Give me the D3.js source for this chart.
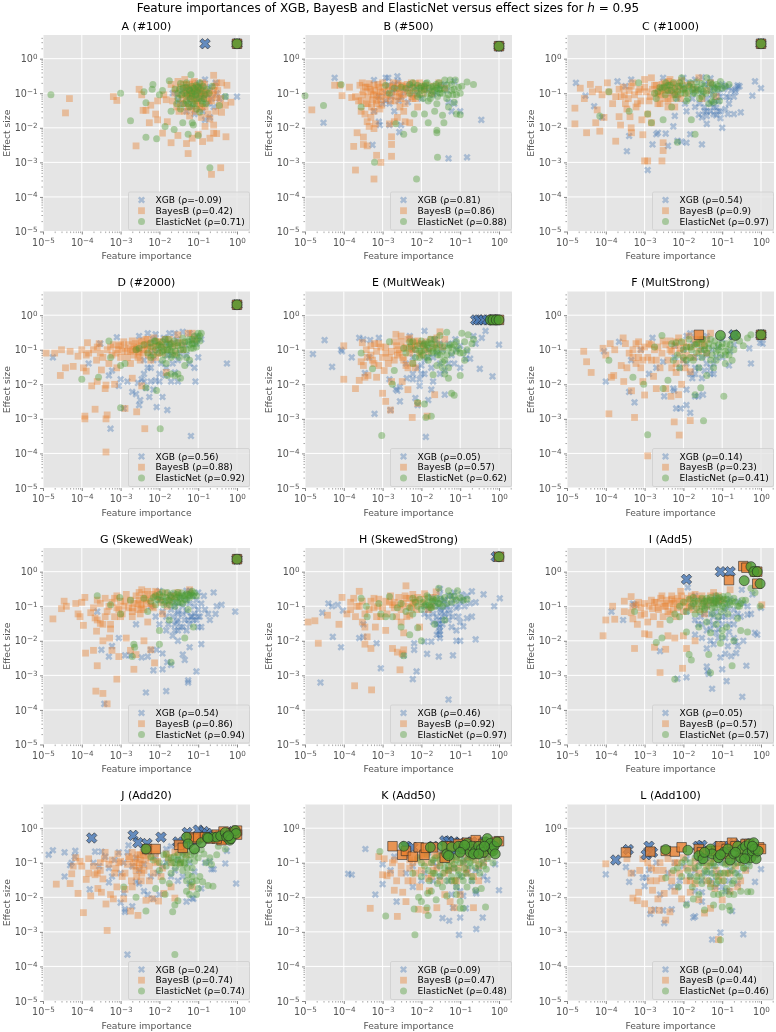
<!DOCTYPE html>
<html><head><meta charset="utf-8">
<script src="https://cdnjs.cloudflare.com/ajax/libs/d3/7.8.5/d3.min.js"></script>
<style>html,body{margin:0;padding:0;background:#fff}svg{display:block;filter:blur(.3px)}text{font-family:"DejaVu Sans",sans-serif}</style>
</head><body><div id="chart"></div>
<script>
const panelTitles=["A (#100)","B (#500)","C (#1000)","D (#2000)","E (MultWeak)","F (MultStrong)","G (SkewedWeak)","H (SkewedStrong)","I (Add5)","J (Add20)","K (Add50)","L (Add100)"];
const rhoXgb=["-0.09","0.81","0.54","0.56","0.05","0.14","0.54","0.46","0.05","0.24","0.09","0.04"];
const rhoBayes=["0.42","0.86","0.9","0.88","0.57","0.23","0.86","0.92","0.57","0.74","0.47","0.44"];
const rhoEnet=["0.71","0.88","0.97","0.92","0.62","0.41","0.94","0.97","0.57","0.74","0.48","0.46"];
const xTickValues=[1e-5,1e-4,1e-3,1e-2,1e-1,1];
const yTickValues=[1e-5,1e-4,1e-3,1e-2,1e-1,1];

const xgbA=[[1,.08],[.5,.08],[.15,.017],[.1,.2],[.2,.15],[.3,.1],[.05,.15],[.03,.06],[.07,.04],[.12,.07],[.18,.05],[.25,.04],[.09,.11],[.06,.09],[.04,.12],[.15,.25],[.08,.025],[.13,.03],[.35,.07],[.2,.02],[.1,.13],[.14,.09],[.022,.1],[.28,.2]];
const bayesA=[[3.8e-5,.027],[4.8e-5,.07],[6.5e-4,.08],[8e-4,.062],[.0025,.003],[.003,.13],[.0035,.09],[.0038,.032],[.0045,.032],[.006,.045],[.0055,.014],[.008,.025],[.009,.017],[.009,.06],[.012,.007],[.013,.09],[.015,.065],[.016,.015],[.02,.0037],[.03,.006],[.05,.0035],[.055,.0018],[.06,.022],[.07,.005],[.1,.0065],[.13,.004],[.2,.005],[.25,.007],[.3,.0068],[.52,.0055],[.38,.0007],[.22,.00045],[.25,.33],[.55,.17],[.7,.055],[.5,.045],[.4,.2],[.3,.2],[.02,.18],[.025,.1],[.03,.22],[.035,.15],[.04,.07],[.045,.25],[.05,.12],[.055,.04],[.06,.18],[.065,.09],[.07,.14],[.075,.06],[.08,.22],[.085,.03],[.09,.1],[.1,.16],[.11,.05],[.12,.08],[.13,.2],[.14,.12],[.15,.04],[.16,.07],[.18,.025],[.2,.1],[.22,.06],[.25,.12],[.28,.03],[.3,.075],[.35,.045],[.12,.02],[.2,.018],[.25,.012],[.15,.011],[.4,.028],[.045,.03],[.035,.05],[.028,.04],[.05,.08],[.07,.1],[.09,.045],[.11,.035]];
const enetA=[[1.6e-5,.09],[.001,.1],[.0018,.016],[.004,.11],[.0045,.0053],[.0045,.053],[.0065,.13],[.0068,.18],[.0085,.0048],[.01,.09],[.012,.12],[.014,.011],[.018,.23],[.02,.03],[.024,.009],[.025,.13],[.03,.07],[.035,.19],[.04,.014],[.045,.1],[.05,.06],[.055,.0065],[.065,.34],[.07,.08],[.075,.012],[.08,.05],[.09,.17],[.1,.006],[.11,.028],[.12,.1],[.14,.07],[.17,.13],[.2,.0007],[.23,.16],[.35,.044],[.5,.08],[.06,.12],[.04,.14],[.05,.2],[.08,.11],[.09,.07],[.1,.15],[.13,.05],[.15,.09],[.03,.1],[.07,.16],[.06,.04],[.11,.2],[.07,.014]];

const xgbB=[[3e-5,.014],[5.8e-5,.28],[5.5e-4,.0032],[6e-4,.24],[8e-4,.015],[8.5e-4,.012],[.0012,.28],[.0014,.28],[.0015,.012],[.002,.03],[.0024,.31],[.0027,.0075],[.003,.012],[.005,.17],[.05,.0013],[.15,.0014],[.35,.017],[.1,.03],[.07,.22],[.045,.12],[.05,.055],[.07,.05],[.06,.03],[.001,.05],[.0015,.05],[.0018,.12],[.003,.08],[.002,.18],[.0045,.055],[.008,.1],[.012,.15],[.02,.09],[.03,.16],[6e-4,.03],[8e-4,.08],[.0012,.1]];
const bayesB=[[1.5e-5,.033],[5.8e-5,.17],[8e-5,.17],[9e-5,.085],[1.4e-4,.15],[1.6e-4,.075],[2e-4,.08],[2.4e-4,.06],[2.6e-4,.17],[2.8e-4,.03],[3e-4,.2],[2.8e-4,.06],[3.2e-4,.11],[3.5e-4,.025],[3.8e-4,.05],[4e-4,.015],[4e-4,.15],[4.2e-4,.08],[4.5e-4,.19],[4.5e-4,.011],[5e-4,.02],[5e-4,.11],[5.5e-4,.065],[6e-4,.17],[6e-4,.03],[6.5e-4,.013],[7e-4,.09],[7e-4,.05],[8e-4,.15],[8.5e-4,.035],[9e-4,.065],[.001,.2],[.001,.11],[.0013,.09],[.0015,.013],[.0016,.06],[.0018,.15],[.002,.015],[.0022,.11],[.0025,.19],[.0028,.04],[.003,.07],[.0032,.13],[.0035,.03],[.004,.15],[.0045,.1],[.005,.014],[.0055,.2],[.006,.07],[.007,.19],[.008,.04],[.01,.15],[.013,.17],[.018,.1],[.028,.2],[.04,.14],[1.8e-4,.0029],[2.2e-4,.0072],[3.2e-4,.0054],[3.2e-4,.0033],[4e-4,.003],[6e-4,.0095],[7e-4,.0016],[9e-4,.001],[.0017,.0055],[.0017,.0033],[.0017,.0015],[2e-4,.0006],[6e-4,.00033],[.0038,.015],[.0024,.02]];
const enetB=[[1e-5,.085],[3e-5,.044],[8.5e-5,.18],[2.8e-4,.04],[6.2e-4,.001],[.0012,.17],[.0015,.1],[.002,.14],[.0022,.013],[.003,.15],[.0035,.0065],[.005,.18],[.006,.15],[.0065,.025],[.0065,.009],[.0075,.00033],[.008,.08],[.01,.12],[.012,.025],[.014,.2],[.015,.014],[.017,.07],[.02,.11],[.022,.03],[.025,.0072],[.025,.0085],[.026,.0014],[.028,.2],[.03,.13],[.035,.023],[.038,.014],[.04,.24],[.045,.07],[.05,.04],[.055,.24],[.06,.12],[.065,.09],[.07,.055],[.075,.24],[.08,.025],[.09,.15],[.1,.024],[.11,.16],[.15,.21],[.22,.18],[.025,.14],[.012,.16],[.018,.15],[.009,.14],[.03,.1]];

const xgbC=[[1.7e-5,.2],[3e-5,.085],[5e-5,.042],[8e-5,.02],[2e-4,.22],[3.2e-4,.16],[3.5e-4,.0021],[4e-4,.0058],[4.5e-4,.25],[.0012,.0006],[.0016,.0033],[.002,.0065],[.0022,.0072],[.0035,.0068],[.004,.003],[.0055,.011],[.006,.022],[.007,.0042],[.009,.004],[.012,.0037],[.015,.0065],[.03,.0033],[.04,.013],[.05,.03],[.06,.04],[.07,.023],[.08,.06],[.09,.019],[.1,.01],[.11,.13],[.12,.035],[.14,.025],[.15,.075],[.2,.025],[.22,.13],[.25,.15],[.25,.17],[.3,.028],[.22,.11],[.7,.22],[.6,.085],[1,.14],[.035,.03],[.025,.024],[.02,.04],[.06,.025],[.012,.03],[.018,.11],[.05,.12],[.08,.1],[.12,.16],[.05,.27],[.01,.28],[.003,.28],[.02,.25],[.03,.29],[.04,.03],[.06,.15],[.15,.15],[.035,.18],[.08,.03],[.03,.02]];
const bayesC=[[1.6e-5,.037],[1.6e-5,.013],[2.2e-5,.14],[2.8e-5,.07],[3.2e-5,.0072],[4e-5,.18],[4.5e-5,.11],[5.5e-5,.014],[6e-5,.033],[7e-5,.008],[6.5e-5,.13],[8e-5,.09],[9e-5,.02],[1.1e-4,.2],[1.2e-4,.11],[1.5e-4,.05],[1.8e-4,.0041],[2.2e-4,.021],[2.4e-4,.012],[2.5e-4,.08],[2.8e-4,.15],[3.2e-4,.05],[3.5e-4,.035],[4e-4,.12],[4.2e-4,.021],[4.5e-4,.01],[4.6e-4,.0072],[5e-4,.2],[6e-4,.04],[7e-4,.11],[8e-4,.06],[8.5e-4,.017],[9e-4,.0063],[.001,.15],[.001,.0011],[.0012,.0011],[.0012,.025],[.0014,.08],[.0015,.014],[.002,.17],[.0022,.08],[.0025,.11],[.0028,.0011],[.003,.0037],[.003,.0022],[.0032,.2],[.0035,.13],[.004,.06],[.0045,.25],[.005,.15],[.0055,.09],[.007,.13],[.009,.23],[.012,.1],[.016,.18],[.025,.28],[.001,.25],[.0015,.28],[.03,.07],[.04,.12],[.05,.2],[.07,.08],[.0025,.05]];
const enetC=[[7e-5,.022],[1.2e-4,.11],[4e-4,.03],[7e-4,.2],[.0012,.025],[.0015,.014],[.0018,.1],[.002,.07],[.0025,.15],[.003,.017],[.0035,.2],[.004,.12],[.005,.04],[.006,.09],[.007,.0038],[.008,.2],[.009,.28],[.01,.13],[.012,.06],[.014,.16],[.016,.017],[.018,.1],[.02,.0065],[.022,.21],[.025,.12],[.03,.08],[.035,.16],[.04,.28],[.045,.05],[.05,.13],[.06,.055],[.07,.18],[.08,.16],[.09,.22],[.1,.14],[.0032,.15],[.0045,.17],[.007,.11],[.011,.1],[.013,.07],[.018,.15],[.028,.13],[.06,.09],[.055,.06]];

const xgbD=[[1.8e-5,.06],[1.5e-4,.04],[3e-4,.15],[5.5e-4,.00052],[5e-4,.018],[6e-4,.025],[8e-4,.23],[9e-4,.009],[.001,.014],[.0012,.002],[.0015,.012],[.002,.006],[.0025,.0052],[.0028,.011],[.003,.0025],[.0032,.0035],[.0035,.014],[.0045,.0078],[.0055,.0043],[.007,.007],[.0085,.0022],[.012,.0043],[.016,.0018],[.02,.012],[.03,.012],[.065,.00032],[.08,.03],[.085,.012],[.1,.06],[.55,.04],[.003,.25],[.005,.3],[.008,.28],[.018,.3],[.025,.3],[.04,.33],[.06,.3],[.09,.15],[.12,.2],[.005,.03],[.007,.05],[.01,.02],[.015,.03],[.02,.07],[.03,.05],[.05,.07],[.008,.013],[.004,.02],[.006,.08],[.015,.15]];
const bayesD=[[1.2e-5,.08],[2e-5,.08],[2.8e-5,.018],[3e-5,.1],[3.8e-5,.03],[5e-5,.09],[6e-5,.033],[8e-5,.065],[1e-4,.1],[1.1e-4,.03],[1.2e-4,.001],[1.2e-4,.0012],[1.3e-4,.07],[1.3e-4,.024],[1.4e-4,.16],[1.8e-4,.009],[2e-4,.1],[2.2e-4,.0019],[2.4e-4,.05],[2.5e-4,.012],[2.8e-4,.15],[3e-4,.08],[3.2e-4,.026],[4e-4,.0075],[4.2e-4,.001],[4.2e-4,.0095],[4.2e-4,.00011],[4.5e-4,.0013],[5e-4,.04],[5.5e-4,.12],[6e-4,.07],[7e-4,.01],[8e-4,.03],[9e-4,.13],[.001,.06],[.0012,.17],[.0013,.002],[.0015,.09],[.0018,.04],[.002,.015],[.0022,.12],[.0026,.0016],[.0028,.06],[.003,.17],[.0035,.009],[.0042,.00052],[.004,.1],[.005,.2],[.006,.05],[.007,.12],[.009,.17],[.012,.08],[.015,.022],[.018,.2],[.025,.13],[.03,.27],[.04,.16],[.055,.3],[.07,.3],[.08,.2],[.003,.08],[.0035,.13],[.0025,.1],[.002,.1],[.005,.13],[.008,.06],[.011,.14]];
const enetD=[[1e-4,.014],[2.7e-4,.016],[5e-4,.18],[5.5e-4,.06],[.001,.035],[.001,.0021],[.0013,.04],[.0025,.1],[.0045,.008],[.006,.12],[.0075,.18],[.0085,.0066],[.0105,.00052],[.012,.09],[.015,.04],[.016,.018],[.02,.15],[.022,.07],[.025,.018],[.03,.13],[.035,.015],[.04,.22],[.045,.035],[.05,.1],[.055,.17],[.06,.05],[.07,.2],[.08,.25],[.09,.12],[.1,.3],[.12,.3],[.11,.18],[.006,.06],[.008,.1],[.01,.14],[.014,.2],[.018,.1],[.028,.07],[.035,.1],[.06,.14],[.08,.15],[.012,.05],[.02,.09]];

const xgbE=[[1.6e-5,.075],[3.2e-5,.19],[5e-5,.032],[8.5e-5,.1],[9e-5,.09],[1.6e-4,.06],[2.5e-4,.22],[3.2e-4,.2],[3.5e-4,.021],[4.5e-4,.06],[4.8e-4,.19],[6.2e-4,.0014],[8e-4,.22],[.0015,.014],[.0016,.0018],[.0022,.0072],[.0024,.0065],[.0028,.0085],[.0028,.0032],[.0042,.015],[.005,.25],[.006,.014],[.007,.004],[.008,.0025],[.009,.009],[.01,.035],[.012,.35],[.013,.0003],[.015,.0035],[.018,.007],[.02,.012],[.03,.02],[.04,.005],[.075,.2],[.1,.03],[.15,.09],[.18,.055],[.22,.25],[.25,.15],[.32,.028],[.36,.22],[.45,.35],[.68,.017],[1,.14],[.14,.055],[.015,.1],[.02,.06],[.03,.15],[.05,.04],[.08,.1],[.012,.05],[.006,.06],[.01,.02]];
const bayesE=[[1e-4,.13],[1e-4,.014],[2e-4,.0075],[2.5e-4,.013],[2.8e-4,.045],[3e-4,.16],[3.2e-4,.035],[3.5e-4,.016],[3.8e-4,.1],[4.2e-4,.018],[5e-4,.07],[5.5e-4,.05],[6.2e-4,.15],[7e-4,.016],[8e-4,.035],[9e-4,.12],[.001,.0055],[.0011,.025],[.0012,.08],[.0012,.0032],[.0015,.06],[.0016,.0018],[.0017,.012],[.002,.17],[.0022,.28],[.0025,.1],[.003,.25],[.0032,.012],[.0035,.05],[.004,.035],[.0045,.007],[.005,.22],[.0058,.0011],[.0065,.17],[.008,.0028],[.009,.08],[.012,.11],[.014,.0012],[.018,.2],[.022,.005],[.025,.14],[.03,.33],[.04,.2],[.007,.03],[.009,.15],[.0055,.11],[.0035,.11],[.0024,.07]];
const enetE=[[2.8e-4,.08],[5.5e-4,.028],[.00095,.00033],[.0015,.17],[.0018,.01],[.002,.025],[.0035,.11],[.005,.17],[.006,.04],[.007,.1],[.008,.003],[.009,.06],[.011,.13],[.012,.0027],[.013,.0011],[.015,.05],[.017,.2],[.018,.0012],[.02,.019],[.025,.09],[.03,.26],[.035,.03],[.04,.02],[.045,.32],[.05,.015],[.06,.0055],[.055,.14],[.07,.0048],[.08,.17],[.09,.11],[.1,.018],[.11,.3],[.12,.08],[.13,.05],[.16,.27],[.2,.15],[.15,.1],[.22,.2],[.01,.09],[.014,.14],[.018,.08],[.022,.14],[.03,.07],[.04,.05],[.06,.12]];

const xgbF=[[9e-5,.09],[1e-4,.012],[2.2e-4,.17],[4e-4,.006],[4.5e-4,.05],[5.5e-4,.003],[8e-4,.1],[.0013,.02],[.0016,.22],[.002,.03],[.003,.045],[.0032,.0045],[.0055,.0075],[.0058,.0065],[.0065,.002],[.0085,.002],[.012,.0025],[.012,.007],[.015,.0015],[.02,.0045],[.024,.0045],[.032,.005],[.02,.03],[.03,.015],[.04,.04],[.05,.03],[.06,.02],[.015,.3],[.02,.02],[.03,.06],[.055,.1],[.08,.12],[.15,.035],[.16,.09],[.5,.11],[.55,.04],[.95,.16],[1.1,.15],[.1,.2],[.2,.14],[.006,.13],[.01,.05],[.017,.015]];
const bayesF=[[2.7e-5,.09],[3.2e-5,.045],[4.2e-5,.022],[8.5e-5,.11],[1e-4,.07],[1.2e-4,.0014],[1.3e-4,.15],[1.4e-4,.016],[1.6e-4,.018],[1.7e-4,.1],[2.5e-4,.035],[2.8e-4,.22],[2.9e-4,.012],[3.2e-4,.15],[3.5e-4,.03],[4e-4,.08],[4.6e-4,.0065],[5e-4,.06],[5.5e-4,.0011],[6e-4,.04],[7e-4,.17],[8e-4,.1],[9e-4,.05],[9e-4,.012],[.001,.0049],[.0012,.000085],[.0013,.15],[.0015,.05],[.0017,.017],[.0018,.1],[.002,.0075],[.0025,.03],[.003,.18],[.0035,.0075],[.0045,.1],[.0048,.0045],[.005,.03],[.0058,.00082],[.0065,.17],[.0075,.005],[.0078,.00034],[.008,.08],[.009,.01],[.012,.12],[.015,.00089],[.015,.023],[.02,.2],[.03,.15],[.05,.3],[.04,.08],[.0065,.022],[.01,.05]];
const enetF=[[1.2e-4,.05],[5e-4,.016],[9.5e-4,.01],[.0012,.00035],[.0018,.12],[.0028,.26],[.003,.0075],[.004,.013],[.0055,.05],[.0065,.16],[.008,.03],[.01,.1],[.012,.05],[.015,.06],[.02,.005],[.022,.15],[.025,.03],[.028,.008],[.033,.00088],[.035,.1],[.04,.018],[.05,.2],[.055,.07],[.06,.03],[.07,.05],[.08,.1],[.095,.12],[.11,.0045],[.12,.04],[.13,.15],[.15,.07],[.18,.2],[.2,.1],[.22,.3],[.28,.18],[.35,.13],[.45,.22],[.55,.27],[.015,.12],[.03,.2],[.045,.11]];

const xgbG=[[2.5e-4,.07],[3.2e-4,.0055],[3.8e-4,.00015],[5e-4,.0035],[6e-4,.007],[9e-4,.012],[.0013,.0038],[.0018,.0038],[.0025,.03],[.0035,.0033],[.0045,.00032],[.005,.0035],[.006,.0055],[.007,.0014],[.0085,.0055],[.012,.0015],[.012,.0043],[.015,.00035],[.016,.0024],[.02,.002],[.022,.014],[.03,.01],[.04,.004],[.045,.0028],[.055,.00072],[.055,.00062],[.06,.0065],[.09,.0013],[.12,.008],[.1,.05],[.12,.025],[.15,.08],[.2,.04],[.28,.06],[.3,.1],[.4,.11],[.25,.25],[.9,.07],[.015,.05],[.02,.08],[.03,.04],[.025,.02],[.04,.06],[.05,.15],[.06,.03],[.07,.05],[.08,.1],[.09,.04],[.1,.025],[.03,.02],[.015,.02],[.01,.03],[.03,.12],[.1,.25],[.01,.28],[.05,.02],[.06,.28],[.022,.14]];
const bayesG=[[1.8e-5,.043],[3e-5,.085],[3.5e-5,.14],[4e-5,.1],[7e-5,.12],[8e-5,.06],[9e-5,.05],[1e-4,.13],[1.1e-4,.028],[1.2e-4,.18],[1.25e-4,.0044],[1.7e-4,.065],[2e-4,.0053],[2.2e-4,.046],[2.3e-4,.00035],[2.4e-4,.019],[2.5e-4,.0019],[2.5e-4,.15],[3e-4,.032],[3.5e-4,.01],[3.5e-4,.0003],[4e-4,.05],[4.5e-4,.00015],[5e-4,.1],[5.2e-4,.012],[5.5e-4,.022],[6e-4,.0053],[7e-4,.17],[8e-4,.00078],[8e-4,.09],[9e-4,.0035],[.001,.05],[.0013,.14],[.0014,.012],[.0018,.0053],[.002,.09],[.0022,.0015],[.0025,.004],[.003,.25],[.0032,.06],[.004,.01],[.0045,.15],[.005,.035],[.006,.0055],[.0065,.1],[.0075,.0023],[.008,.27],[.01,.18],[.012,.06],[.016,.1],[.02,.2],[.03,.25],[.06,.3],[.002,.05],[.0028,.12],[.0035,.09]];
const enetG=[[2.5e-4,.2],[5.5e-4,.11],[9.5e-4,.18],[.001,.06],[.0018,.15],[.002,.0035],[.0022,.008],[.0023,.0065],[.004,.17],[.005,.07],[.008,.11],[.01,.02],[.01,.008],[.012,.26],[.014,.14],[.018,.04],[.02,.0024],[.02,.18],[.025,.1],[.03,.25],[.035,.13],[.04,.2],[.045,.012],[.05,.23],[.055,.08],[.06,.18],[.07,.27],[.075,.025],[.09,.2],[.018,.11],[.028,.18],[.045,.16],[.06,.2]];

const xgbH=[[2.5e-5,.00062],[2.8e-5,.065],[4e-5,.12],[5e-5,.1],[5.2e-5,.013],[7e-5,.11],[8.5e-5,.0065],[9.5e-5,.075],[2.5e-4,.012],[3.2e-4,.03],[3.2e-4,.013],[7e-4,.0085],[9e-4,.0016],[.0035,.0038],[.006,.00078],[.0065,.0085],[.0065,.0055],[.0075,.0013],[.012,.0095],[.014,.0042],[.018,.0095],[.025,.015],[.03,.02],[.028,.0035],[.05,.0002],[.06,.025],[.065,.0038],[.08,.01],[.1,.035],[.1,.01],[.12,.026],[.15,.045],[.2,.05],[.25,.011],[.25,.13],[.2,.27],[.4,.22],[.75,.1],[1.05,.17],[.08,.02],[.07,.25],[.035,.05],[.025,.03],[.03,.08],[.04,.14],[.05,.06],[.06,.2],[.015,.05],[.02,.1],[.012,.06],[.028,.018],[.028,.04],[.09,.1],[.12,.15],[.03,.15],[.05,.04],[.02,.035],[.03,.32]];
const bayesH=[[1.2e-5,.035],[1.8e-5,.038],[2.2e-5,.0085],[3.8e-5,.055],[7.5e-5,.03],[9e-5,.18],[1.2e-4,.06],[1.5e-4,.13],[1.8e-4,.17],[1.9e-4,.0005],[2e-4,.05],[2.2e-4,.1],[2.5e-4,.27],[3e-4,.035],[3.5e-4,.025],[3.5e-4,.008],[4e-4,.013],[4.5e-4,.08],[5e-4,.006],[5.2e-4,.00038],[6e-4,.17],[6.5e-4,.025],[7.5e-4,.1],[9e-4,.05],[.0012,.02],[.0015,.13],[.0018,.006],[.002,.09],[.0024,.0047],[.0028,.00145],[.003,.035],[.0032,.0042],[.0035,.017],[.0035,.0055],[.004,.39],[.0045,.1],[.005,.055],[.007,.15],[.009,.025],[.012,.23],[.018,.1],[.024,.26],[.004,.17],[.0028,.11],[.0018,.11],[.006,.12]];
const enetH=[[2.8e-4,.17],[3.8e-4,.1],[4e-4,.05],[8e-4,.12],[9e-4,.06],[.0012,.05],[.0015,.19],[.0018,.05],[.0024,.09],[.003,.025],[.0035,.0037],[.004,.07],[.005,.015],[.006,.17],[.008,.024],[.01,.01],[.012,.1],[.015,.18],[.018,.09],[.022,.03],[.028,.33],[.03,.12],[.04,.04],[.05,.28],[.06,.13],[.085,.28],[.1,.18],[.15,.16],[.016,.11],[.022,.15]];

const xgbI=[[1.4e-4,.07],[2.8e-4,.04],[5e-4,.12],[5.5e-4,.11],[.0025,.005],[.007,.0008],[.012,.00088],[.013,.35],[.02,.015],[.028,.05],[.04,.0018],[.042,.0013],[.045,.0011],[.055,.00041],[.07,.017],[.09,.0033],[.1,.0015],[.12,.0042],[.13,.00068],[.14,.007],[.15,.03],[.17,.0036],[.2,.012],[.22,.0095],[.23,.0044],[.25,.007],[.33,.00024],[.35,.01],[.42,.0019],[.45,.057],[.55,.06],[.7,.017],[.8,.015],[1,.09],[.32,.3],[.3,.05],[.18,.05],[.1,.05],[.06,.03],[.04,.02],[.03,.03],[.05,.06],[.08,.12],[.13,.13],[.2,.08],[.25,.14],[.45,.1],[.6,.22],[.02,.04],[.15,.018],[.06,.008],[.04,.006],[.05,.01],[.08,.022],[.11,.08]];
const bayesI=[[8.5e-5,.014],[1e-4,.04],[1.5e-4,.1],[1.7e-4,.042],[3e-4,.14],[4.5e-4,.19],[4.5e-4,.065],[5e-4,.043],[5.5e-4,.006],[6e-4,.11],[6.5e-4,.03],[7e-4,.13],[8e-4,.055],[.001,.016],[.0012,.035],[.0013,.015],[.0015,.15],[.0016,.085],[.0018,.0065],[.0025,.03],[.0028,.2],[.003,.12],[.0025,.0012],[.0035,.0057],[.004,.014],[.0045,.06],[.005,.16],[.006,.012],[.007,.09],[.0085,.27],[.0095,.0016],[.01,.014],[.012,.006],[.015,.15],[.02,.01],[.02,.22],[.03,.16],[.04,.1],[.05,.2],[.06,.25],[.001,.12],[.0018,.13],[.0022,.09],[.0035,.1],[.0055,.12],[.009,.14],[.012,.1],[.018,.08],[.025,.12],[.035,.06],[.08,.14],[.1,.15],[.16,.3],[1.05,.11]];
const enetI=[[5.5e-4,.07],[.002,.009],[.0028,.012],[.0045,.04],[.006,.00077],[.008,.05],[.012,.018],[.014,.004],[.016,.0028],[.018,.12],[.02,.06],[.025,.025],[.03,.1],[.035,.14],[.04,.17],[.045,.004],[.05,.0012],[.05,.017],[.055,.09],[.06,.12],[.07,.2],[.08,.05],[.09,.0085],[.1,.013],[.11,.16],[.12,.09],[.13,.025],[.15,.13],[.18,.0019],[.2,.01],[.22,.13],[.25,.045],[.3,.02],[.33,.15],[.4,.15],[.45,.018],[.55,.33],[.7,.25],[.95,.1],[.02,.14],[.035,.08],[.05,.15],[.065,.14],[.085,.18],[.1,.1],[.14,.2],[.18,.14],[.28,.1]];

const xgbJ=[[1.4e-5,.17],[1.8e-5,.23],[3.6e-5,.04],[3.6e-5,.2],[5e-5,.085],[5.5e-5,.1],[6.5e-5,.15],[6.8e-5,.22],[1.6e-4,.017],[2.2e-4,.21],[2.8e-4,.08],[3.2e-4,.21],[5e-4,.027],[6e-4,.04],[9e-4,.2],[.001,.007],[.0012,.013],[.0013,.0038],[.0013,.0045],[.0015,.00022],[.0016,.32],[.002,.0055],[.0025,.028],[.003,.06],[.004,.015],[.005,.012],[.007,.0092],[.01,.012],[.03,.03],[.05,.0075],[.07,.0095],[.075,.009],[.08,.055],[.12,.018],[.15,.1],[.2,.11],[.22,.065],[.25,.065],[.55,.22],[.5,.095],[.95,.025],[.02,.3],[.04,.04],[.06,.025],[.009,.05],[.015,.1],[.02,.04]];
const bayesJ=[[2.2e-5,.024],[5e-5,.025],[5.5e-5,.048],[6e-5,.08],[7e-5,.14],[8e-5,.013],[9e-5,.11],[1e-4,.08],[1.1e-4,.0036],[1.3e-4,.033],[1.5e-4,.05],[1.7e-4,.011],[2e-4,.08],[2.2e-4,.045],[2.6e-4,.018],[3e-4,.06],[3.2e-4,.014],[3.5e-4,.034],[3.8e-4,.13],[4.2e-4,.0064],[4.5e-4,.0011],[5e-4,.09],[5.5e-4,.012],[6.5e-4,.009],[7e-4,.05],[8e-4,.02],[9e-4,.1],[.0011,.04],[.0012,.009],[.0013,.017],[.0016,.15],[.0018,.004],[.002,.02],[.0025,.06],[.0028,.003],[.003,.1],[.0035,.05],[.004,.16],[.0045,.0082],[.0055,.03],[.0065,.009],[.008,.1],[.0095,.0078],[.011,.04],[.013,.013],[.017,.14],[.02,.02],[.025,.0095],[.03,.2],[.05,.17],[.07,.02],[.0022,.1],[.0032,.17]];
const enetJ=[[.0012,.02],[.0025,.01],[.0045,.004],[.006,.15],[.008,.018],[.01,.1],[.012,.03],[.014,.012],[.018,.025],[.02,.14],[.025,.00022],[.022,.0038],[.025,.006],[.03,.008],[.035,.1],[.04,.06],[.045,.18],[.05,.03],[.055,.045],[.06,.012],[.065,.022],[.07,.028],[.08,.17],[.09,.03],[.1,.018],[.13,.028],[.16,.1],[.18,.022],[.2,.14],[.22,.09],[.24,.021],[.3,.17],[.33,.3],[.5,.25],[.015,.18],[.03,.12],[.025,.1],[.045,.09],[.06,.21]];

const xgbK=[[1.3e-4,.048],[1.6e-4,.045],[3.6e-4,.25],[6.5e-4,.012],[.001,.024],[.001,.09],[.0023,.0075],[.0016,.06],[.002,.15],[.035,.0025],[.052,.0021],[.065,.005],[.093,.00082],[.1,.0026],[.12,.011],[.14,.0048],[.26,.0012],[.26,.013],[.3,.07],[.38,.0026],[.4,.04],[.5,.032],[.8,.09],[1,.016],[.15,.05],[.2,.03],[.08,.02],[.05,.06],[.03,.04],[.02,.1],[.01,.03],[.006,.02],[.004,.05],[.12,.1],[.25,.015]];
const bayesK=[[4.8e-4,.0048],[8e-4,.15],[.001,.045],[.0011,.13],[.0013,.042],[.0016,.05],[.0018,.1],[.002,.016],[.0023,.03],[.0024,.0028],[.003,.08],[.0033,.014],[.004,.0075],[.0045,.03],[.006,.1],[.007,.05],[.0085,.0045],[.01,.17],[.013,.0042],[.016,.0155],[.018,.04],[.025,.005],[.03,.1],[.04,.012],[.055,.0075],[.07,.005],[.08,.03],[.1,.012],[.14,.065],[.22,.005],[.3,.03],[.012,.1],[.02,.06],[.05,.14],[.15,.15],[.005,.12],[.009,.02],[.025,.16],[.06,.07],[.04,.05]];
const enetK=[[8.5e-4,.21],[.0012,.0029],[.0065,.0046],[.0068,.00082],[.0085,.01],[.01,.0075],[.014,.005],[.0145,.013],[.015,.003],[.018,.015],[.022,.05],[.024,.0085],[.03,.12],[.035,.02],[.04,.07],[.045,.011],[.05,.15],[.06,.03],[.07,.09],[.08,.012],[.09,.045],[.1,.0075],[.1,.0048],[.12,.0048],[.13,.07],[.15,.12],[.18,.1],[.2,.03],[.25,.016],[.3,.09],[.35,.018],[.45,.0052],[.47,.065],[.7,.1],[.01,.1],[.015,.06],[.02,.12],[.03,.04],[.05,.08],[.08,.15],[.12,.03],[.06,.15],[.1,.1],[.2,.15]];

const xgbL=[[1e-4,.046],[3.3e-4,.075],[4e-4,.028],[5e-4,.05],[9e-4,.037],[1e-3,.021],[1.1e-3,.037],[1.3e-3,.062],[1.4e-3,.0033],[1.8e-3,.0044],[.002,.1],[.0025,.012],[.003,.0042],[.0032,.0018],[.0048,.02],[.005,.0045],[.012,.0065],[.018,.0026],[.02,.0028],[.03,.0075],[.03,.014],[.055,.0006],[.09,.00095],[.12,.015],[.18,.004],[.35,.00085],[.42,.065],[.7,.028],[1,.065],[.07,.02],[.05,.05],[.03,.03],[.15,.03],[.25,.05],[.01,.08],[.02,.06],[.09,.1],[.3,.1],[.007,.02],[.15,.015]];
const bayesL=[[1e-4,.093],[3.5e-4,.13],[4.5e-4,.05],[5e-4,.0095],[6.5e-4,.008],[7e-4,.014],[7.5e-4,.06],[9e-4,.13],[1e-3,.0065],[1.2e-3,.1],[1.4e-3,.03],[1.5e-3,.0042],[1.6e-3,.016],[2e-3,.06],[2.2e-3,.009],[2.4e-3,.0042],[2.8e-3,.035],[3.2e-3,.013],[3.5e-3,.0022],[4.5e-3,.0038],[5e-3,.05],[6e-3,.015],[7e-3,.1],[9e-3,.009],[.012,.03],[.015,.014],[.018,.07],[.025,.0085],[.035,.0035],[.04,.03],[.05,.0048],[.065,.018],[.08,.0006],[.1,.0085],[.12,.05],[.16,.015],[.22,.08],[.3,.03],[.02,.025],[.05,.1],[.08,.04]];
const enetL=[[.0035,.037],[.0055,.06],[.0075,.02],[.009,.1],[.012,.006],[.015,.04],[.018,.009],[.02,.07],[.025,.012],[.03,.1],[.035,.0043],[.04,.055],[.05,.02],[.06,.006],[.07,.04],[.09,.00058],[.1,.1],[.1,.0052],[.13,.018],[.15,.0055],[.16,.0042],[.18,.06],[.2,.012],[.25,.1],[.3,.015],[.35,.07],[.45,.0145],[.55,.0145],[.5,.11],[.03,.04],[.045,.08],[.06,.1],[.08,.03],[.11,.05],[.14,.09],[.2,.03],[.08,.012],[.022,.03]];

const coreXgb=[
[[.03,.09],[.04,.05],[.06,.06],[.07,.13],[.09,.07],[.11,.1],[.13,.15],[.17,.09],[.22,.07],[.05,.03]],
[[.0012,.06],[.0017,.08],[.0022,.13],[.0026,.06],[.0035,.11],[.0045,.14],[.006,.09],[.0075,.15],[.01,.07],[.015,.12],[.0025,.22],[.0014,.17],[.025,.1],[.04,.18]],
[[.005,.1],[.007,.07],[.009,.15],[.011,.05],[.014,.2],[.017,.07],[.022,.13],[.026,.05],[.03,.1],[.04,.07],[.045,.18],[.055,.09],[.065,.06],[.075,.14],[.09,.08],[.1,.18],[.13,.08],[.17,.12],[.2,.08],[.28,.16],[.04,.022],[.05,.05],[.07,.038],[.09,.03],[.15,.05],[.035,.04]],
[[.003,.1],[.004,.05],[.005,.15],[.006,.03],[.007,.2],[.009,.09],[.011,.04],[.013,.22],[.016,.07],[.018,.16],[.022,.04],[.028,.2],[.035,.08],[.045,.14],[.06,.04],[.07,.18],[.09,.25],[.004,.012],[.006,.012],[.01,.012],[.014,.018],[.025,.022]],
[[.004,.04],[.006,.1],[.008,.03],[.01,.15],[.012,.02],[.015,.06],[.018,.03],[.022,.2],[.025,.08],[.03,.04],[.035,.1],[.04,.025],[.05,.15],[.06,.07],[.07,.04],[.1,.13],[.006,.02],[.009,.014]],
[[.006,.06],[.008,.03],[.01,.1],[.012,.04],[.015,.02],[.018,.15],[.02,.06],[.025,.03],[.03,.1],[.035,.025],[.04,.07],[.05,.02],[.06,.04],[.07,.06],[.1,.06],[.03,.2],[.04,.25],[.012,.25]],
[[.006,.1],[.008,.05],[.01,.15],[.012,.07],[.015,.12],[.017,.03],[.02,.22],[.022,.05],[.025,.1],[.028,.035],[.03,.06],[.035,.18],[.035,.025],[.04,.1],[.045,.04],[.05,.07],[.05,.28],[.06,.12],[.065,.05],[.07,.2],[.08,.06],[.09,.15],[.1,.08],[.11,.05],[.12,.12],[.14,.2],[.18,.06],[.03,.07],[.025,.03],[.04,.025],[.055,.04],[.075,.04]],
[[.012,.1],[.015,.08],[.018,.18],[.02,.06],[.022,.13],[.025,.05],[.028,.1],[.03,.22],[.03,.025],[.032,.07],[.035,.04],[.038,.15],[.04,.06],[.045,.1],[.05,.2],[.055,.08],[.06,.12],[.065,.05],[.07,.16],[.08,.09],[.09,.05],[.1,.14],[.11,.22],[.13,.1],[.15,.2],[.18,.12],[.028,.03],[.03,.015],[.03,.012],[.035,.03],[.04,.09]],
[[.012,.07],[.016,.1],[.02,.2],[.024,.03],[.03,.15],[.035,.06],[.04,.1],[.045,.035],[.05,.022],[.055,.13],[.06,.05],[.065,.2],[.07,.07],[.08,.04],[.09,.16],[.1,.03],[.12,.05],[.14,.09],[.16,.16],[.2,.03],[.25,.06],[.35,.12],[.08,.012],[.12,.012],[.03,.012]],
[[2e-4,.1],[4e-4,.15],[5e-4,.07],[7e-4,.12],[.001,.05],[.0012,.1],[.0015,.2],[.002,.08],[.0025,.14],[.003,.025],[.004,.09],[.005,.2],[.006,.04],[.008,.15],[.012,.08],[.015,.25],[.025,.06],[.03,.12],[.04,.2],[.06,.1]],
[[.006,.08],[.009,.15],[.012,.05],[.015,.2],[.02,.03],[.025,.08],[.03,.2],[.04,.12],[.05,.03],[.06,.15],[.07,.07],[.09,.2],[.1,.04],[.13,.13],[.16,.07],[.2,.15],[.25,.06],[.3,.2],[.4,.1],[.5,.14],[.1,.015],[.06,.012]],
[[.004,.05],[.006,.1],[.008,.03],[.012,.13],[.015,.04],[.02,.015],[.025,.1],[.035,.05],[.04,.14],[.055,.03],[.06,.08],[.08,.05],[.1,.02],[.12,.12],[.16,.06],[.2,.1],[.25,.025],[.35,.12],[.45,.1],[.6,.15]]];
const coreBayes=[
[[.022,.06],[.026,.14],[.032,.03],[.036,.09],[.042,.18],[.048,.05],[.052,.14],[.058,.08],[.062,.11],[.068,.035],[.072,.2],[.078,.12],[.082,.07],[.088,.15],[.095,.06],[.105,.09],[.115,.14],[.125,.04],[.135,.08],[.145,.18],[.165,.11],[.19,.06],[.24,.09],[.27,.16],[.32,.12],[.38,.07],[.05,.17],[.06,.1],[.07,.07],[.08,.14],[.1,.12],[.12,.11],[.15,.1],[.045,.1]],
[[3e-4,.09],[3.6e-4,.15],[4.2e-4,.05],[4.8e-4,.13],[5.2e-4,.04],[5.8e-4,.09],[6.3e-4,.12],[6.8e-4,.06],[7.5e-4,.18],[8.2e-4,.08],[8.8e-4,.11],[9.5e-4,.045],[.0011,.15],[.0012,.07],[.0014,.12],[.0017,.09],[.0019,.2],[.0021,.06],[.0024,.14],[.0027,.1],[.003,.17],[.0034,.09],[.0038,.05],[.0043,.18],[.005,.12],[.0056,.08],[.0065,.14],[.0075,.1],[.009,.2],[.011,.1],[.0015,.16],[.0025,.08],[.0032,.16],[.007,.07],[.012,.13],[.02,.16]],
[[1.8e-4,.08],[2.2e-4,.13],[3e-4,.09],[3.8e-4,.07],[4.5e-4,.16],[5.5e-4,.09],[6.5e-4,.05],[7.5e-4,.13],[.0011,.11],[.0013,.06],[.0016,.13],[.0018,.17],[.002,.1],[.0022,.05],[.0024,.14],[.0026,.09],[.0028,.18],[.003,.12],[.0033,.07],[.0036,.16],[.0038,.1],[.0042,.22],[.0045,.12],[.0048,.07],[.0052,.18],[.006,.11],[.0065,.2],[.0072,.09],[.008,.16],[.0085,.07],[.01,.13],[.013,.17],[.02,.13],[.004,.04],[.006,.04]],
[[1.5e-4,.08],[2.5e-4,.12],[3.5e-4,.06],[4.5e-4,.1],[6.5e-4,.14],[7.5e-4,.08],[8.5e-4,.1],[.001,.14],[.0011,.09],[.0013,.11],[.0015,.06],[.0016,.14],[.0018,.09],[.002,.18],[.0022,.07],[.0024,.15],[.0026,.11],[.0028,.09],[.0032,.05],[.0035,.18],[.0038,.08],[.0042,.14],[.0045,.2],[.0048,.1],[.0052,.07],[.0058,.15],[.0065,.09],[.0072,.22],[.008,.13],[.009,.08],[.01,.17],[.012,.12],[.014,.2],[.016,.1],[.02,.15],[.025,.08],[.03,.16],[.04,.1]],
[[4e-4,.06],[5e-4,.13],[6e-4,.04],[7e-4,.09],[8e-4,.15],[.001,.06],[.0012,.12],[.0014,.04],[.0017,.09],[.002,.05],[.0023,.13],[.0027,.08],[.003,.17],[.0033,.06],[.004,.12],[.0045,.2],[.005,.08],[.0055,.15],[.006,.1],[.007,.13],[.008,.18],[.01,.07],[.011,.14],[.013,.17],[.015,.09],[.02,.12],[.025,.22],[.035,.12],[.0045,.03],[.006,.04]],
[[5e-4,.1],[6e-4,.15],[7e-4,.06],[8e-4,.03],[.001,.12],[.0012,.06],[.0015,.14],[.002,.05],[.0022,.12],[.0028,.08],[.0035,.14],[.004,.05],[.0045,.18],[.005,.09],[.006,.13],[.0065,.04],[.0075,.22],[.0085,.11],[.01,.16],[.011,.03],[.012,.07],[.014,.25],[.016,.12],[.018,.06],[.022,.15],[.025,.09],[.028,.2],[.035,.13],[.04,.2]],
[[2e-4,.09],[2.5e-4,.04],[3e-4,.12],[3.5e-4,.03],[4e-4,.17],[4.5e-4,.07],[5.5e-4,.03],[6e-4,.13],[7e-4,.05],[8e-4,.2],[9e-4,.08],[.001,.14],[.0011,.06],[.0012,.1],[.0014,.22],[.0016,.09],[.0018,.15],[.002,.07],[.0022,.12],[.0025,.2],[.0028,.08],[.003,.15],[.0033,.11],[.0035,.3],[.0038,.17],[.004,.08],[.0043,.22],[.0046,.12],[.005,.27],[.0055,.17],[.006,.12],[.0065,.22],[.007,.09],[.008,.19],[.009,.25],[.011,.13],[.014,.24],[.018,.15],[.025,.19]],
[[1.5e-4,.08],[2.5e-4,.1],[3e-4,.14],[3.5e-4,.06],[5e-4,.14],[6e-4,.09],[7e-4,.05],[8e-4,.16],[.001,.09],[.0012,.14],[.0013,.06],[.0016,.2],[.002,.13],[.0023,.05],[.0026,.18],[.003,.08],[.0034,.12],[.0038,.2],[.0042,.05],[.005,.17],[.0055,.09],[.006,.22],[.0065,.13],[.0075,.08],[.008,.18],[.01,.12],[.012,.16],[.015,.08],[.02,.18]],
[[3e-4,.07],[5e-4,.1],[8e-4,.09],[.001,.06],[.0013,.1],[.0017,.05],[.002,.13],[.0023,.08],[.0026,.17],[.003,.05],[.0033,.1],[.0037,.15],[.004,.07],[.0045,.12],[.005,.2],[.0055,.08],[.006,.14],[.0065,.05],[.0072,.17],[.008,.11],[.009,.2],[.01,.07],[.011,.13],[.013,.17],[.014,.09],[.016,.2],[.018,.12],[.022,.17],[.026,.08],[.03,.2],[.035,.13],[.045,.15],[.06,.13],[.08,.2]],
[[1.5e-4,.13],[2.5e-4,.05],[3e-4,.1],[4e-4,.2],[6e-4,.12],[7.5e-4,.07],[8.5e-4,.18],[.001,.11],[.0013,.05],[.0015,.09],[.0017,.13],[.0019,.03],[.002,.2],[.0022,.08],[.0024,.13],[.0026,.04],[.0028,.17],[.003,.07],[.0032,.12],[.0034,.03],[.0036,.09],[.0038,.2],[.004,.06],[.0045,.12],[.005,.18],[.0055,.08],[.006,.14],[.007,.05],[.008,.18],[.009,.11],[.012,.07],[.015,.18],[.02,.1],[.025,.2],[.035,.1],[.045,.22]],
[[.002,.12],[.003,.05],[.004,.17],[.005,.07],[.006,.03],[.008,.12],[.01,.06],[.012,.18],[.015,.035],[.018,.1],[.022,.16],[.025,.07],[.03,.03],[.035,.13],[.04,.2],[.05,.06],[.06,.11],[.07,.03],[.08,.14],[.09,.07],[.1,.18],[.12,.1],[.15,.05],[.18,.14],[.22,.04],[.25,.12],[.3,.08],[.4,.1],[.5,.15],[.03,.17]],
[[.0015,.07],[.002,.03],[.0025,.1],[.003,.06],[.004,.13],[.005,.03],[.006,.1],[.008,.05],[.01,.14],[.012,.07],[.015,.03],[.02,.11],[.025,.05],[.03,.15],[.04,.08],[.05,.025],[.06,.13],[.07,.06],[.09,.15],[.1,.03],[.13,.1],[.16,.05],[.2,.14],[.25,.02],[.3,.1],[.4,.06],[.5,.13]]];
const coreEnet=[
[[.028,.05],[.033,.13],[.038,.09],[.042,.05],[.048,.15],[.052,.09],[.058,.13],[.062,.07],[.068,.1],[.073,.05],[.078,.14],[.085,.09],[.095,.11],[.105,.07],[.115,.13],[.125,.06],[.135,.16],[.16,.05],[.19,.1],[.055,.05],[.035,.035],[.09,.035]],
[[.004,.14],[.005,.1],[.006,.2],[.007,.12],[.008,.17],[.009,.09],[.01,.16],[.011,.07],[.012,.13],[.013,.19],[.014,.1],[.016,.14],[.018,.09],[.02,.16],[.022,.12],[.024,.18],[.026,.08],[.028,.13],[.032,.17],[.035,.1],[.04,.13],[.045,.17],[.05,.09],[.06,.18],[.07,.13],[.08,.09],[.1,.1],[.015,.06],[.025,.05]],
[[.0022,.11],[.0028,.14],[.0034,.09],[.004,.17],[.0048,.12],[.0055,.2],[.006,.14],[.0065,.07],[.0075,.16],[.0085,.1],[.0095,.18],[.011,.14],[.013,.11],[.015,.2],[.017,.13],[.02,.1],[.023,.15],[.026,.07],[.03,.19],[.033,.11],[.038,.1],[.05,.2],[.055,.18],[.065,.14],[.075,.13],[.085,.06],[.12,.16],[.15,.18]],
[[.003,.11],[.004,.14],[.005,.08],[.006,.16],[.007,.07],[.008,.18],[.009,.13],[.01,.08],[.011,.12],[.012,.17],[.013,.1],[.014,.07],[.015,.14],[.016,.1],[.017,.2],[.018,.14],[.02,.06],[.022,.12],[.024,.18],[.026,.09],[.03,.16],[.033,.06],[.038,.14],[.042,.1],[.045,.17],[.05,.06],[.06,.2],[.065,.11],[.07,.15],[.075,.11],[.09,.18],[.1,.22],[.11,.25],[.02,.02],[.03,.02]],
[[.004,.08],[.005,.12],[.006,.17],[.007,.06],[.008,.13],[.009,.09],[.01,.18],[.011,.07],[.012,.15],[.013,.1],[.014,.06],[.015,.16],[.016,.11],[.018,.15],[.02,.09],[.022,.2],[.024,.11],[.026,.07],[.03,.14],[.035,.09],[.04,.13],[.045,.07],[.05,.11],[.06,.08],[.07,.14],[.08,.09],[.1,.08],[.13,.17],[.035,.045],[.05,.03],[.025,.035]],
[[.005,.15],[.007,.07],[.009,.17],[.01,.06],[.012,.12],[.014,.2],[.016,.1],[.018,.05],[.02,.14],[.022,.08],[.025,.16],[.028,.1],[.03,.06],[.032,.2],[.035,.13],[.04,.08],[.045,.15],[.05,.05],[.06,.13],[.065,.18],[.07,.09],[.08,.14],[.09,.07],[.1,.15],[.12,.09],[.14,.1],[.16,.14],[.18,.05],[.12,.07],[.25,.25]],
[[.006,.14],[.007,.18],[.008,.2],[.009,.16],[.01,.22],[.011,.15],[.012,.19],[.013,.11],[.015,.18],[.016,.25],[.017,.15],[.019,.2],[.021,.13],[.023,.24],[.025,.16],[.028,.22],[.03,.13],[.032,.2],[.035,.17],[.038,.24],[.04,.12],[.045,.2],[.05,.15],[.055,.22],[.065,.24],[.075,.2],[.08,.24]],
[[.003,.12],[.005,.09],[.006,.06],[.007,.13],[.008,.1],[.009,.16],[.01,.08],[.011,.13],[.013,.11],[.014,.2],[.015,.13],[.017,.09],[.019,.14],[.02,.16],[.023,.1],[.025,.17],[.027,.12],[.032,.16],[.035,.1],[.04,.18],[.045,.12],[.055,.2],[.07,.19],[.08,.15],[.12,.15]],
[[.006,.06],[.008,.1],[.01,.13],[.012,.07],[.014,.16],[.016,.1],[.018,.18],[.022,.09],[.024,.14],[.027,.07],[.03,.17],[.032,.12],[.036,.09],[.04,.14],[.045,.11],[.05,.18],[.055,.06],[.06,.15],[.065,.09],[.07,.13],[.075,.17],[.08,.11],[.09,.14],[.095,.07],[.105,.19],[.115,.12],[.13,.16],[.14,.06],[.16,.11],[.2,.17],[.25,.1],[.3,.12],[.04,.035],[.07,.03],[.1,.02]],
[[.007,.12],[.01,.06],[.013,.17],[.015,.08],[.017,.12],[.02,.05],[.022,.1],[.024,.15],[.026,.07],[.03,.17],[.033,.09],[.036,.13],[.04,.2],[.043,.1],[.048,.14],[.052,.07],[.058,.12],[.065,.17],[.07,.07],[.08,.11],[.09,.22],[.1,.14],[.12,.24],[.14,.18],[.05,.015],[.07,.04],[.09,.012],[.11,.04]],
[[.006,.05],[.008,.14],[.01,.04],[.012,.08],[.014,.17],[.016,.03],[.018,.1],[.02,.05],[.023,.14],[.026,.025],[.03,.08],[.033,.17],[.036,.05],[.04,.11],[.045,.03],[.05,.06],[.055,.11],[.06,.04],[.065,.17],[.07,.07],[.075,.03],[.08,.12],[.09,.06],[.1,.16],[.11,.04],[.12,.11],[.14,.05],[.16,.16],[.18,.08],[.2,.04],[.22,.12],[.25,.07],[.28,.16],[.32,.05],[.36,.12],[.4,.08],[.5,.13],[.6,.17],[.15,.02],[.08,.02]],
[[.007,.07],[.009,.04],[.011,.12],[.013,.06],[.015,.1],[.017,.02],[.02,.14],[.022,.04],[.025,.08],[.028,.16],[.03,.025],[.033,.1],[.036,.06],[.04,.14],[.045,.03],[.05,.1],[.055,.05],[.06,.15],[.065,.08],[.07,.025],[.08,.12],[.09,.05],[.1,.16],[.11,.03],[.12,.09],[.14,.05],[.16,.13],[.18,.025],[.2,.09],[.22,.05],[.25,.14],[.28,.04],[.32,.1],[.36,.07],[.42,.12],[.5,.08],[.06,.012],[.1,.013],[.15,.012]]];

const bigXgb=[[[.15,2.7],[1,2.7]],[[1,2.3]],[[1,2.7]],[[1,2]],[[.25,.73],[.3,.73],[.4,.73],[.5,.73],[.7,.73]],[[.2,.27],[1,.27]],[[1,2.3]],[[.85,2.7]],[[.012,.6],[.09,1],[.16,1]],[[1.8e-4,.52],[.0021,.62],[.0028,.38],[.0048,.36],[.011,.55],[.052,.75],[.1,.88],[.14,.8],[.17,.7],[.09,.45],[.25,.6],[.5,.7],[.8,.8],[.05,.35],[.03,.4]],[[.004,.3],[.006,.28],[.04,.43],[.05,.42],[.07,.4],[.1,.38],[.2,.4],[.4,.4],[.6,.35],[.08,.25],[.02,.3]],[[1.8e-4,.12],[3.8e-4,.24],[.0011,.17],[.0013,.3],[.0016,.2],[.024,.3],[.03,.32],[.08,.3],[.15,.3],[.2,.35],[.4,.35],[.5,.25],[.7,.2]]];
const bigBayes=[[[1,2.7]],[[1,2.3]],[[1,2.7]],[[1,2]],[[.7,.73],[.8,.73],[1,.73]],[[.025,.27],[1,.27]],[[1,2.3]],[[1,2.7]],[[.15,.57],[.35,1.45],[.42,1.3],[.7,1],[.8,1],[.8,.45]],[[.0048,.25],[.008,.25],[.032,.33],[.04,.27],[.06,.55],[.08,.5],[.1,.55],[.15,.55],[.2,.5],[.3,.65],[.45,.8],[.5,.5],[.6,.5],[.7,.7],[.85,.75],[1,.85],[1,.65],[.4,.45],[.3,.5]],[[.0018,.3],[.0032,.17],[.004,.22],[.006,.15],[.0085,.28],[.012,.17],[.013,.27],[.02,.28],[.04,.14],[.045,.3],[.06,.3],[.09,.35],[.12,.3],[.15,.38],[.2,.25],[.25,.45],[.3,.3],[.4,.35],[.5,.3],[.7,.35],[1,.42],[.8,.4],[.35,.2],[.6,.25]],[[3.3e-4,.2],[.0014,.21],[.0035,.22],[.006,.21],[.009,.28],[.025,.25],[.03,.2],[.05,.22],[.07,.22],[.09,.3],[.13,.25],[.18,.38],[.22,.3],[.3,.2],[.4,.35],[.5,.35],[.6,.2],[.9,.28],[1,.25],[.12,.18]]];
const bigEnet=[[[1,2.7]],[[1,2.3]],[[1,2.7]],[[1,2]],[[.6,.73],[.7,.73],[.85,.73],[1,.73]],[[.09,.26],[.22,.26],[1,.27]],[[1,2.3]],[[1,2.7]],[[.55,1.4],[.65,1],[.8,1],[.37,.55],[.95,.45]],[[.0045,.25],[.05,.55],[.055,.35],[.08,.25],[.12,.38],[.17,.55],[.25,.55],[.3,.55],[.38,.6],[.5,.75],[.55,.55],[.65,.45],[.7,.5],[.9,.85],[.95,.7],[.18,.52],[.6,.6]],[[.0035,.3],[.017,.28],[.035,.3],[.045,.18],[.06,.28],[.09,.3],[.12,.25],[.15,.36],[.18,.2],[.2,.3],[.25,.22],[.3,.3],[.35,.25],[.4,.2],[.45,.4],[.5,.5],[.55,.3],[.6,.36],[.65,.25],[.7,.22],[.75,.3],[.9,.4],[.05,.16],[.13,.32],[.22,.18],[.3,.18],[.42,.3],[.8,.18],[.1,.2]],[[.0035,.24],[.013,.23],[.025,.16],[.032,.13],[.05,.25],[.055,.18],[.08,.14],[.11,.2],[.14,.25],[.16,.12],[.2,.18],[.25,.3],[.3,.14],[.33,.25],[.4,.3],[.45,.18],[.5,.35],[.55,.14],[.6,.22],[.65,.38],[.7,.25],[.75,.13],[.85,.22],[.09,.17],[.22,.2],[.38,.13],[.6,.3],[.035,.2]]];

const smallXgb=[xgbA,xgbB,xgbC,xgbD,xgbE,xgbF,xgbG,xgbH,xgbI,xgbJ,xgbK,xgbL];
const smallBayes=[bayesA,bayesB,bayesC,bayesD,bayesE,bayesF,bayesG,bayesH,bayesI,bayesJ,bayesK,bayesL];
const smallEnet=[enetA,enetB,enetC,enetD,enetE,enetF,enetG,enetH,enetI,enetJ,enetK,enetL];

const W=776,H=1032,PW=207,PH=196.5;
const lefts=[43,305,567],tops=[35,291.5,548,804.5];
const BLUE="#4575B4",ORANGE="#E8802E",GREEN="#4C9C32",GRAY="#555555",BG="#E5E5E5";
const svg=d3.select("#chart").append("svg").attr("width",W).attr("height",H);

svg.append("text").attr("x",388).attr("y",11.5).attr("text-anchor","middle").attr("font-size",12).attr("fill","#000")
  .call(t=>{t.append("tspan").text("Feature importances of XGB, BayesB and ElasticNet versus effect sizes for ");
    t.append("tspan").attr("font-style","italic").text("h");t.append("tspan").text(" = 0.95");});

const minors=(lo,hi)=>{const o=[];for(let e=lo;e<=hi;e++)for(let m=2;m<=9;m++){const v=m*Math.pow(10,e);o.push(v);}return o;};
const xPath=s=>{const a=s*0.5,b=s*0.25;return `M${-a} ${-a+b}L${-a+b} ${-a}L0 ${-b}L${a-b} ${-a}L${a} ${-a+b}L${b} 0L${a} ${a-b}L${a-b} ${a}L0 ${b}L${-a+b} ${a}L${-a} ${a-b}L${-b} 0Z`;};
const markerPath=(kind,s)=>kind==="x"?xPath(s):kind==="s"?`M${-s/2} ${-s/2}H${s/2}V${s/2}H${-s/2}Z`:d3.arc()({innerRadius:0,outerRadius:s/2,startAngle:0,endAngle:2*Math.PI});
const fmtPow=(sel)=>{sel.each(function(d){const e=Math.round(Math.log10(d));const t=d3.select(this);t.text(null);
  t.append("tspan").text("10");t.append("tspan").attr("dy","-0.42em").attr("font-size","7.2px").text(String(e).replace("-","\u2212"));});};

panelTitles.forEach((title,i)=>{
  const g=svg.append("g").attr("transform",`translate(${lefts[i%3]},${tops[Math.floor(i/3)]})`);
  const x=d3.scaleLog().domain([1e-5,Math.pow(10,.335)]).range([0,PW]);
  const y=d3.scaleLog().domain([1e-5,Math.pow(10,.685)]).range([PH,0]);
  g.append("rect").attr("width",PW).attr("height",PH).attr("fill",BG);
  g.append("g").selectAll("line").data(xTickValues).join("line").attr("x1",d=>x(d)).attr("x2",d=>x(d)).attr("y1",0).attr("y2",PH).attr("stroke","#fff").attr("stroke-width",1);
  g.append("g").selectAll("line").data(yTickValues).join("line").attr("y1",d=>y(d)).attr("y2",d=>y(d)).attr("x1",0).attr("x2",PW).attr("stroke","#fff").attr("stroke-width",1);
  const layer=(data,kind,size,color,op,edge)=>{g.append("g").selectAll("path").data(data).join("path")
    .attr("transform",d=>`translate(${x(d[0])},${y(d[1])})`).attr("d",markerPath(kind,size)).attr("fill",color).attr("fill-opacity",op)
    .attr("stroke",edge?"#222":"none").attr("stroke-opacity",edge?.7:0).attr("stroke-width",edge?.8:0);};
  layer(smallXgb[i].concat(coreXgb[i]),"x",7.2,BLUE,.38,false);
  layer(smallBayes[i].concat(coreBayes[i]),"s",6.8,ORANGE,.4,false);
  layer(smallEnet[i].concat(coreEnet[i]),"c",7,GREEN,.4,false);
  layer(bigXgb[i],"x",10.5,BLUE,.8,true);
  layer(bigBayes[i],"s",9.5,ORANGE,.8,true);
  layer(bigEnet[i],"c",10,GREEN,.8,true);
  // axes
  const ax=g.append("g").attr("transform",`translate(0,${PH})`).call(d3.axisBottom(x).tickValues(xTickValues).tickSize(3).tickPadding(2.5).tickFormat(()=>"" ));
  ax.select(".domain").remove();ax.selectAll("line").attr("stroke",GRAY).attr("stroke-width",.7);
  ax.selectAll("text").attr("font-size",9.6).attr("fill",GRAY).attr("font-family","DejaVu Sans").attr("dy","0.9em").call(fmtPow);
  const axm=g.append("g").attr("transform",`translate(0,${PH})`).call(d3.axisBottom(x).tickValues(minors(-5,0).filter(v=>v<2.16)).tickSize(1.6).tickFormat(()=>""));
  axm.select(".domain").remove();axm.selectAll("line").attr("stroke",GRAY).attr("stroke-width",.5);
  const ay=g.append("g").call(d3.axisLeft(y).tickValues(yTickValues).tickSize(3).tickPadding(2.5).tickFormat(()=>""));
  ay.select(".domain").remove();ay.selectAll("line").attr("stroke",GRAY).attr("stroke-width",.7);
  ay.selectAll("text").attr("font-size",9.6).attr("fill",GRAY).attr("font-family","DejaVu Sans").call(fmtPow);
  const aym=g.append("g").call(d3.axisLeft(y).tickValues(minors(-5,0).filter(v=>v<4.84)).tickSize(1.6).tickFormat(()=>""));
  aym.select(".domain").remove();aym.selectAll("line").attr("stroke",GRAY).attr("stroke-width",.5);
  // labels
  g.append("text").attr("x",PW/2).attr("y",PH+27.5).attr("text-anchor","middle").attr("font-size",9.2).attr("fill",GRAY).text("Feature importance");
  g.append("text").attr("transform",`translate(-33.5,${PH/2}) rotate(-90)`).attr("text-anchor","middle").attr("font-size",9.2).attr("fill",GRAY).text("Effect size");
  g.append("text").attr("x",PW/2).attr("y",-5.5).attr("text-anchor","middle").attr("font-size",11).attr("fill","#000").text(title);
  // legend
  const lg=g.append("g").attr("transform",`translate(${PW-121.5},${PH-39.5})`);
  lg.append("rect").attr("width",121).attr("height",38).attr("rx",1.5).attr("fill",BG).attr("fill-opacity",.8).attr("stroke","#CCCCCC").attr("stroke-width",.7);
  [["x",BLUE,.38,`XGB (\u03C1=${rhoXgb[i]})`,7.2],["s",ORANGE,.4,`BayesB (\u03C1=${rhoBayes[i]})`,6.8],["c",GREEN,.4,`ElasticNet (\u03C1=${rhoEnet[i]})`,7]].forEach((r,k)=>{
    const yy=8+k*10.7;
    lg.append("path").attr("transform",`translate(13,${yy})`).attr("d",markerPath(r[0],r[4])).attr("fill",r[1]).attr("fill-opacity",r[2]);
    lg.append("text").attr("x",27).attr("y",yy+3.2).attr("font-size",9.1).attr("fill","#000").text(r[3]);
  });
});
</script></body></html>
